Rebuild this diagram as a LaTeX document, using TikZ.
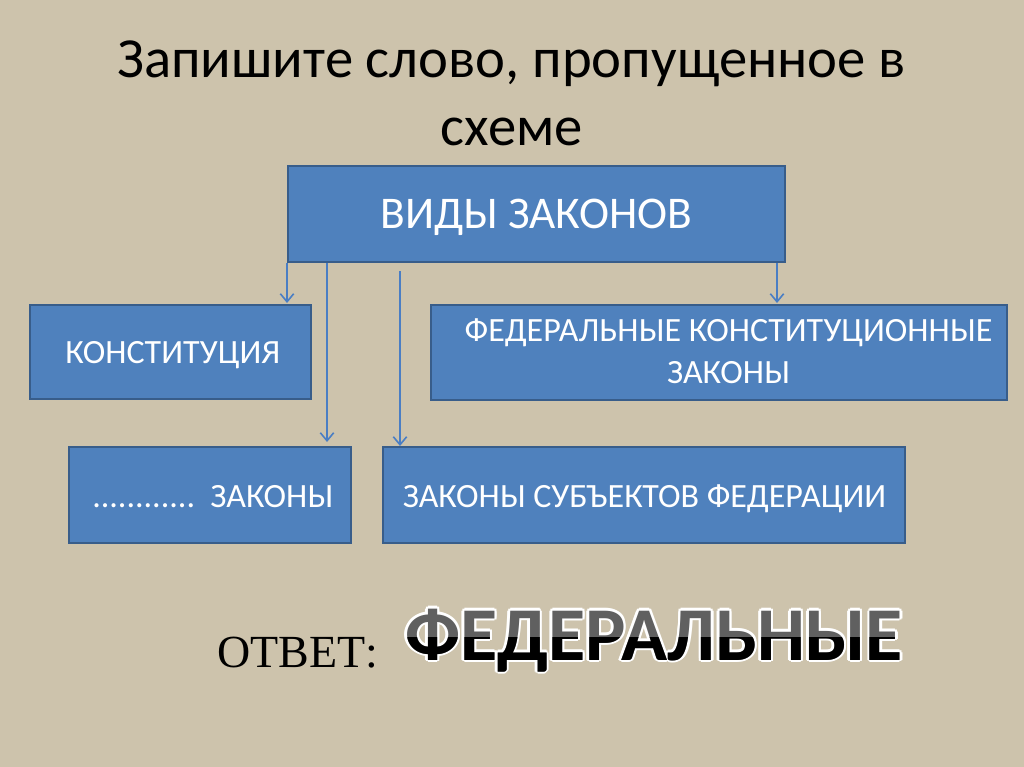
\documentclass[tikz,border=0pt]{standalone}
\usepackage{fontspec}
\setmainfont{Carlito}
\newfontfamily\serifans{Liberation Serif}
\usetikzlibrary{arrows.meta}
\definecolor{bgc}{HTML}{CDC3AC}
\definecolor{boxfill}{HTML}{4F81BD}
\definecolor{boxline}{HTML}{385D8A}
\definecolor{arr}{HTML}{4A7EC4}
\definecolor{ansgrey}{HTML}{606060}
\tikzset{
  box/.style={draw=boxline, line width=2pt, fill=boxfill},
  boxtext/.style={text=white, font=\fontsize{25.5}{31}\selectfont, anchor=base, inner sep=0pt},
  conn/.style={draw=arr, line width=1.2pt, -{Straight Barb[length=6pt,width=10pt]}},
  titletext/.style={font=\fontsize{42.5}{50}\selectfont, text=black, anchor=base, inner sep=0pt},
  anstext/.style={font=\bfseries\fontsize{57}{64}\selectfont, anchor=base west, inner sep=0pt},
}
\begin{document}
\begin{tikzpicture}[x=0.75pt,y=-0.75pt]
\fill[bgc] (0,0) rectangle (1024,767);
\useasboundingbox (0,0) rectangle (1024,767);
% title
\node[titletext] (title1) at (511.5,78) {Запишите слово, пропущенное в};
\node[titletext] (title2) at (511.5,145) {схеме};
% boxes
\path[box] (288,166) rectangle (785,262);
\node[boxtext, font=\fontsize{34}{40}\selectfont] (vidy) at (536.5,228) {ВИДЫ ЗАКОНОВ};
\path[box] (30,305) rectangle (311,399);
\node[boxtext, anchor=base west] (konst) at (65,363) {КОНСТИТУЦИЯ};
\path[box] (431,305) rectangle (1007,400);
\node[boxtext] (fkz1) at (728.5,341) {ФЕДЕРАЛЬНЫЕ КОНСТИТУЦИОННЫЕ};
\node[boxtext] (fkz2) at (728.5,383) {ЗАКОНЫ};
\path[box] (69,447) rectangle (351,543);
\node[boxtext, anchor=base west] (fed) at (92,507) {............\ \ ЗАКОНЫ};
\path[box] (383,447) rectangle (905,543);
\node[boxtext] (subj) at (644.5,507) {ЗАКОНЫ СУБЪЕКТОВ ФЕДЕРАЦИИ};
% connectors
\coordinate (a1s) at (287,263); \coordinate (a1e) at (287,303);
\coordinate (a2s) at (327,263); \coordinate (a2e) at (327,442);
\coordinate (a3s) at (400,271); \coordinate (a3e) at (400,446);
\coordinate (a4s) at (777,263); \coordinate (a4e) at (777,303);
\draw[conn] (a1s) -- (a1e);
\draw[conn] (a2s) -- (a2e);
\draw[conn] (a3s) -- (a3e);
\draw[conn] (a4s) -- (a4e);
% answer
\node[font=\serifans\fontsize{34.5}{40}\selectfont, text=black, anchor=base west, inner sep=0pt] (otvet) at (217,667) {ОТВЕТ:};
\foreach \dx/\dy in {-2.5/0,2.5/0,0/-2.5,0/2.5,-1.8/-1.8,1.8/-1.8,-1.8/1.8,1.8/1.8}{
  \node[anstext, text=white] at (405+\dx,660+\dy) {ФЕДЕРАЛЬНЫЕ};
}
\node[anstext, text=ansgrey] (ans) at (405,660) {ФЕДЕРАЛЬНЫЕ};
\begin{scope}
  \clip (380,637) rectangle (940,700);
  \node[anstext, text=black] (ansdark) at (405,660) {ФЕДЕРАЛЬНЫЕ};
\end{scope}
\end{tikzpicture}
\end{document}
